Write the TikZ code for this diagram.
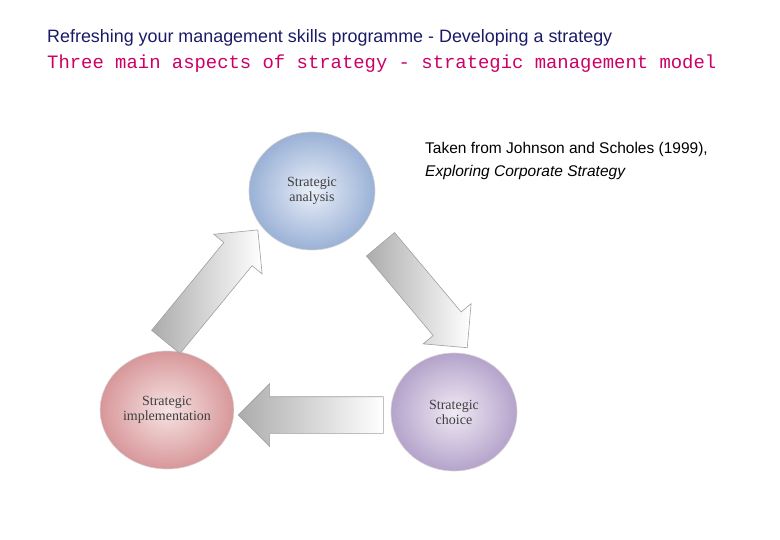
\documentclass[tikz,border=0pt]{standalone}
\usepackage{fontspec}
\setmainfont{Liberation Serif}
\setsansfont{Liberation Sans}
\setmonofont{Liberation Mono}
\usetikzlibrary{shapes.arrows,shapes.geometric}
\definecolor{navy}{HTML}{1A1A66}
\definecolor{pinkt}{HTML}{CC0066}
\definecolor{aout}{HTML}{9AB1D6}\definecolor{ain}{HTML}{E9EFF8}
\definecolor{cout}{HTML}{B5A3CB}\definecolor{cin}{HTML}{EFEAF4}
\definecolor{iout}{HTML}{D8979A}\definecolor{iin}{HTML}{F6E3E3}
\begin{document}
\begin{tikzpicture}[x=1pt,y=-1pt,
  ball/.style={ellipse,minimum width=126pt,minimum height=118pt,draw=gray!35,line width=0.6pt,
    font=\fontsize{14}{15}\selectfont,text=black!75,align=center},
  blk/.style={single arrow,draw=gray!75,line width=0.6pt,inner xsep=0pt,inner ysep=18pt,text height=0pt,text depth=0pt,
    single arrow head extend=13pt,single arrow head indent=0pt,left color=gray!65,right color=white}]
\useasboundingbox (0,0) rectangle (780,540);
\node[anchor=base west,font=\sffamily\fontsize{17.9}{19}\selectfont,text=navy,inner sep=0pt] (t1) at (47,43) {Refreshing your management skills programme - Developing a strategy};
\node[anchor=base west,font=\ttfamily\fontsize{18.9}{20}\selectfont,text=pinkt,inner sep=0pt] (t2) at (47,69) {Three main aspects of strategy - strategic management model};
\node[anchor=north west,align=left,font=\sffamily\fontsize{15.5}{23}\selectfont,inner sep=0pt] (src) at (425,142) {Taken from Johnson and Scholes (1999),\\\textit{Exploring Corporate Strategy}};
\node[ball,inner color=ain,outer color=aout] (a) at (312,191) {Strategic\\analysis};
\node[ball,inner color=cin,outer color=cout] (c) at (454,412) {Strategic\\choice};
\node[ball,inner color=iin,outer color=iout] (i) at (167,410) {Strategic\\implementation};
\node[blk,minimum height=145pt,rotate=50.6] (ar1) at (206,293) {};
\node[blk,minimum height=135pt,rotate=-50] (ar2) at (418,289) {};
\node[blk,minimum height=145pt,rotate=180] (ar3) at (320,415) {};
\end{tikzpicture}
\end{document}
